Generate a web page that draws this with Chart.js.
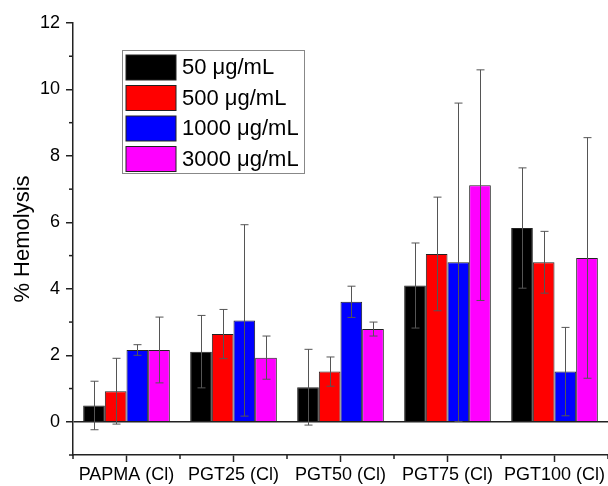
<!DOCTYPE html>
<html>
<head>
<meta charset="utf-8">
<script src="https://cdn.jsdelivr.net/npm/chart.js@4/dist/chart.umd.min.js"></script>
<style>
  html, body { margin: 0; padding: 0; background: #fff; }
  #wrap { width: 608px; height: 486px; position: relative; }
</style>
</head>
<body>
<div id="wrap"><canvas id="hemoChart"></canvas></div>
<script>
// Datos
const categories = ['PAPMA (Cl)', 'PGT25 (Cl)', 'PGT50 (Cl)', 'PGT75 (Cl)', 'PGT100 (Cl)'];
const seriesNames = ['50 μg/mL', '500 μg/mL', '1000 μg/mL', '3000 μg/mL'];
const seriesColors = ['#000000', '#ff0000', '#0000ff', '#ff00ff'];

const conc50 = [0.49, 2.11, 1.04, 4.10, 5.83];
const conc500 = [0.92, 2.64, 1.51, 5.05, 4.80];
const conc1000 = [2.16, 3.05, 3.61, 4.80, 1.51];
const conc3000 = [2.16, 1.93, 2.79, 7.12, 4.93];

const err50 = [0.73, 1.09, 1.14, 1.28, 1.81];
const err500 = [0.99, 0.74, 0.44, 1.71, 0.93];
const err1000 = [0.16, 2.88, 0.47, 4.79, 1.33];
const err3000 = [0.99, 0.65, 0.21, 3.47, 3.62];

const yMajorTicks = [0, 2, 4, 6, 8, 10, 12];
const yMinorTicks = [-1, 1, 3, 5, 7, 9, 11];

const values = [conc50, conc500, conc1000, conc3000];
const errors = [err50, err500, err1000, err3000];

const FONT = 'Liberation Sans, Arial, sans-serif';

// Barras de error (dibujadas con las escalas de Chart.js)
const errorBarsPlugin = {
    id: 'errorBars',
    afterDatasetsDraw(chart) {
        const ctx = chart.ctx;
        const yScale = chart.scales.y;
        ctx.save();
        ctx.strokeStyle = '#555';
        ctx.lineWidth = 1;
        chart.data.datasets.forEach((ds, di) => {
            const meta = chart.getDatasetMeta(di);
            meta.data.forEach((bar, i) => {
                const v = ds.data[i];
                const e = errors[di][i];
                const yTop = yScale.getPixelForValue(v + e);
                const yBot = yScale.getPixelForValue(v - e);
                const x = Math.round(bar.x) + 0.5;
                ctx.beginPath();
                ctx.moveTo(x, yTop);
                ctx.lineTo(x, yBot);
                ctx.moveTo(x - 4, yTop);
                ctx.lineTo(x + 4, yTop);
                ctx.moveTo(x - 4, yBot);
                ctx.lineTo(x + 4, yBot);
                ctx.stroke();
            });
        });
        ctx.restore();
    }
};

// Ticks menores y leyenda
const extrasPlugin = {
    id: 'extras',
    afterDraw(chart) {
        const ctx = chart.ctx;
        const area = chart.chartArea;
        const yScale = chart.scales.y;
        ctx.save();
        ctx.strokeStyle = '#222';
        ctx.lineWidth = 1.5;
        // menores eje Y
        yMinorTicks.forEach(v => {
            const y = yScale.getPixelForValue(v);
            ctx.beginPath();
            ctx.moveTo(area.left, y);
            ctx.lineTo(area.left - 4, y);
            ctx.stroke();
        });
        // menores eje X (límites de categoría)
        const step = (area.right - area.left) / categories.length;
        for (let i = 0; i <= categories.length; i++) {
            const x = area.left + i * step;
            ctx.beginPath();
            ctx.moveTo(x, area.bottom);
            ctx.lineTo(x, area.bottom + 4);
            ctx.stroke();
        }

        // Leyenda
        const lx = 122.5, ly = 50.5, lw = 182, lh = 123;
        ctx.strokeStyle = '#888';
        ctx.lineWidth = 1;
        ctx.strokeRect(lx, ly, lw, lh);
        ctx.font = '22px ' + FONT;
        ctx.textBaseline = 'middle';
        ctx.textAlign = 'left';
        seriesNames.forEach((name, i) => {
            const rowY = 55 + i * 30.5;
            ctx.fillStyle = seriesColors[i];
            ctx.fillRect(126, rowY, 50, 25);
            ctx.strokeStyle = '#222';
            ctx.strokeRect(126, rowY, 50, 25);
            ctx.fillStyle = '#000';
            ctx.fillText(name, 182, rowY + 13);
        });
        ctx.restore();
    }
};

const datasets = seriesNames.map((name, i) => ({
    label: name,
    data: values[i],
    backgroundColor: seriesColors[i],
    borderColor: '#222',
    borderWidth: 1,
    categoryPercentage: 0.81,
    barPercentage: 1.0
}));

new Chart(document.getElementById('hemoChart'), {
    type: 'bar',
    data: { labels: categories, datasets: datasets },
    plugins: [errorBarsPlugin, extrasPlugin],
    options: {
        responsive: true,
        maintainAspectRatio: false,
        animation: false,
        layout: { padding: { top: 23, right: 0, bottom: 0, left: 0 } },
        plugins: {
            legend: { display: false },
            tooltip: { enabled: false }
        },
        scales: {
            x: {
                offset: true,
                grid: {
                    offset: false,
                    drawOnChartArea: false,
                    tickLength: 7,
                    tickColor: '#222',
                    tickWidth: 1.5
                },
                border: { color: '#222', width: 1.5 },
                ticks: {
                    color: '#000',
                    font: { family: FONT, size: 18 },
                    padding: 2,
                    maxRotation: 0,
                    autoSkip: false
                },
                afterFit(scale) { scale.height = 31; }
            },
            y: {
                min: -1,
                max: 12,
                afterBuildTicks(scale) {
                    scale.ticks = yMajorTicks.map(v => ({ value: v }));
                },
                grid: {
                    drawOnChartArea: true,
                    color: c => (c.tick && c.tick.value === 0) ? '#222' : 'rgba(0,0,0,0)',
                    lineWidth: 1.5,
                    tickLength: 7,
                    tickColor: '#222',
                    tickWidth: 1.5
                },
                border: { color: '#222', width: 1.5 },
                ticks: {
                    color: '#000',
                    font: { family: FONT, size: 18 },
                    padding: 6
                },
                title: {
                    display: true,
                    text: '% Hemolysis',
                    color: '#000',
                    font: { family: FONT, size: 22 },
                    padding: { top: 10, bottom: 0 }
                },
                afterFit(scale) { scale.width = 73; }
            }
        }
    }
});
</script>
</body>
</html>
